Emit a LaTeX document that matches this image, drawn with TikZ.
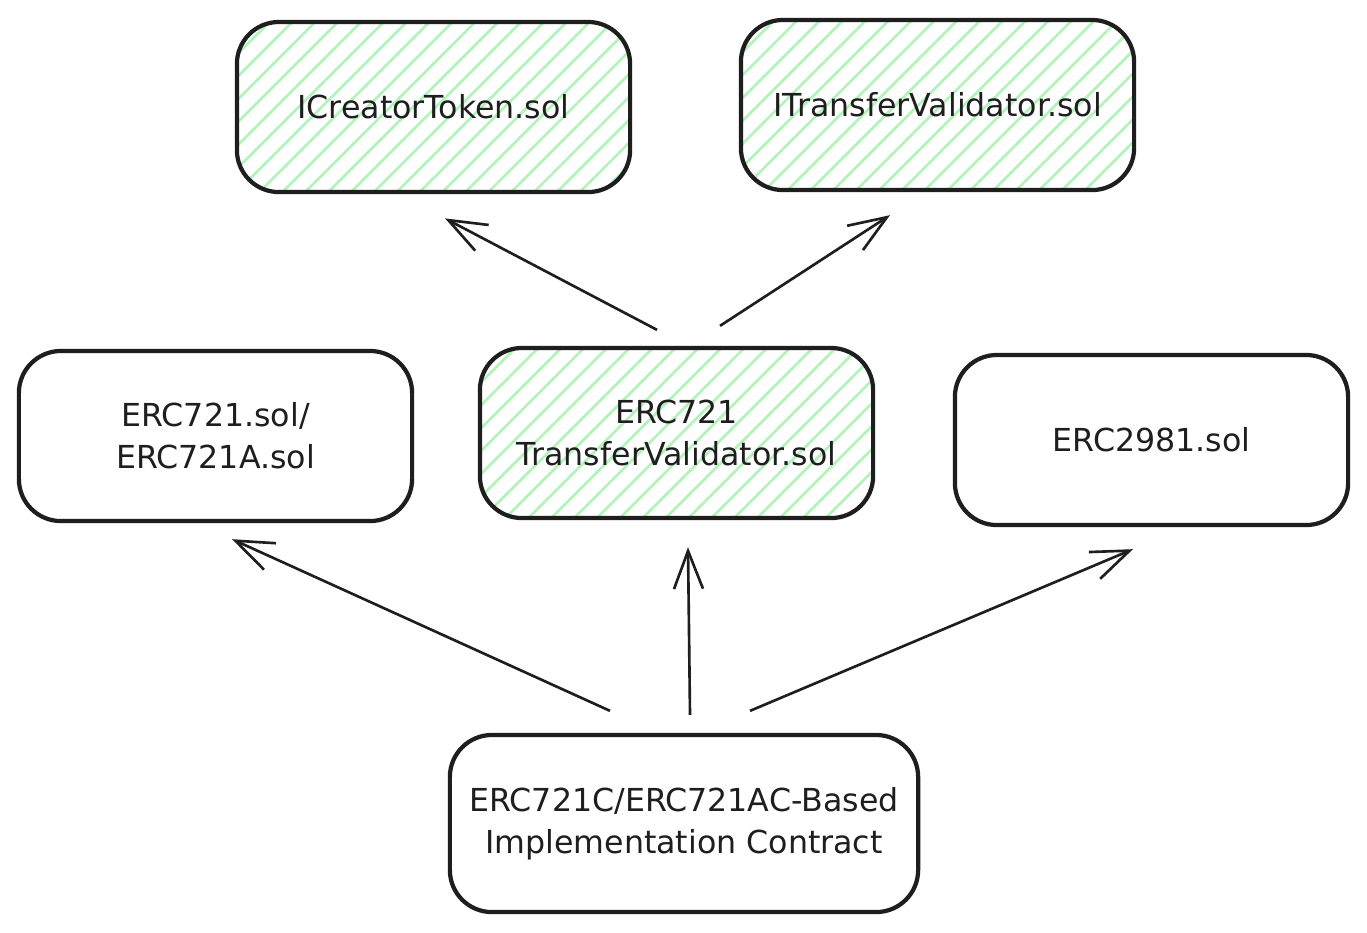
\documentclass[tikz,border=0pt]{standalone}
\usepackage{fontspec}
\setmainfont{DejaVu Sans}
\usetikzlibrary{arrows.meta,patterns.meta,calc}
\definecolor{ink}{HTML}{1E1E1E}
\definecolor{hatchgreen}{HTML}{B2F2BB}

\begin{document}
\begin{tikzpicture}[x=0.01cm, y=-0.01cm,
		box/.style={draw=ink, line width=1.2pt, rounded corners=0.42cm, minimum width=3.93cm, minimum height=1.7cm, align=center, text=ink, font=\fontsize{9}{12}\selectfont},
		hatched/.style={pattern={Lines[angle=45, distance=4.6pt, line width=0.75pt]}, pattern color=hatchgreen},
		arr/.style={draw=ink, line width=0.75pt, -{Straight Barb[length=3.8mm, width=2.9mm]}}]
			%%%%% START %%%%%
			
			\useasboundingbox[fill=white] (0, 0) rectangle (1367, 932);
			
			\node[box, hatched] (ict) at (433.5, 107) {ICreatorToken.sol};
			\node[box, hatched] (itv) at (937.5, 105) {ITransferValidator.sol};
			
			\node[box] (erc) at (215.5, 436) {ERC721.sol/\\ERC721A.sol};
			\node[box, hatched] (etv) at (676.5, 433) {ERC721\\TransferValidator.sol};
			\node[box] (roy) at (1151.5, 440) {ERC2981.sol};
			
			\node[box, minimum width=4.68cm, minimum height=1.77cm] (impl) at (684, 823.5) {ERC721C/ERC721AC-Based\\Implementation Contract};
			
			\draw[arr] ($(etv.north)+(-19.5, -16)$) -- ($(ict.south)+(11.5, 25)$);
			\draw[arr] ($(etv.north)+(43.5, -20)$) -- ($(itv.south)+(-47.5, 23)$);
			
			\draw[arr] ($(impl.north)+(-74, -22)$) -- ($(erc.south)+(16.5, 16)$);
			\draw[arr] ($(impl.north)+(6, -18)$) -- ($(etv.south)+(11.5, 27)$);
			\draw[arr] ($(impl.north)+(66, -22)$) -- ($(roy.south)+(-18.5, 22)$);
			
			%%%%% END %%%%%
		\end{tikzpicture}
\end{document}
